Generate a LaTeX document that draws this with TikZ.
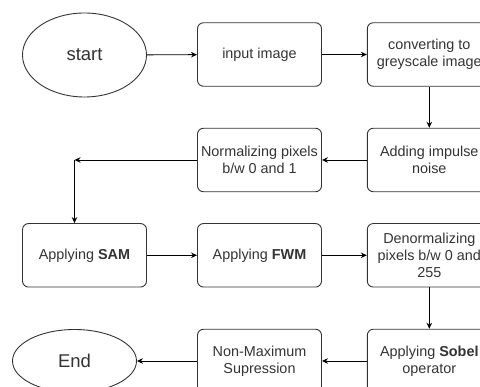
\documentclass[tikz,border=0pt]{standalone}
\usepackage{fontspec}
\setmainfont{Liberation Sans}
\usetikzlibrary{arrows.meta,shapes.geometric}

\begin{document}
\begin{tikzpicture}[x=1pt, y=-1pt, line width=0.9pt, >={Stealth[length=6pt,width=5.5pt]},
    box/.style={draw=black!80, rounded corners=6pt, minimum width=124pt, minimum height=63.5pt,
      inner sep=0pt, align=center, text=black!80, font=\fontsize{14.4}{16.7}\selectfont},
    oval/.style={draw=black!80, ellipse, minimum width=124pt, inner sep=0pt,
      text=black!80, font=\fontsize{18.5}{20}\selectfont}]
    \useasboundingbox (0,0) rectangle (480,387);
    % first row
    \node[oval, minimum height=84pt] (start) at (84.5,55) {start};
    \node[box] (input) at (259.5,54.5) {input image};
    \node[box] (grey) at (429.3,54.5) {converting to\\greyscale image};
    % second row
    \node[box] (noise) at (429.3,160) {Adding impulse\\noise};
    \node[box] (norm) at (259.5,160) {Normalizing pixels\\b/w 0 and 1};
    \coordinate (bend) at (74.5,160);
    % third row
    \node[box] (sam) at (84.5,255.3) {Applying \textbf{SAM}};
    \node[box] (fwm) at (259.5,255.3) {Applying \textbf{FWM}};
    \node[box] (denorm) at (429.3,255.3) {Denormalizing\\pixels b/w 0 and\\255};
    % last row
    \node[box] (sobel) at (429.3,361) {Applying \textbf{Sobel}\\operator};
    \node[box] (nms) at (259.5,361) {Non-Maximum\\Supression};
    \node[oval, minimum height=63pt] (end) at (74.5,361) {End};
    % arrows
    \draw[->] (start) -- (input);
    \draw[->] (input) -- (grey);
    \draw[->] (grey) -- (noise);
    \draw[->] (noise) -- (norm);
    \draw[->] (norm) -- (bend);
    \draw[->] (bend) -- (bend |- sam.north);
    \draw[->] (sam) -- (fwm);
    \draw[->] (fwm) -- (denorm);
    \draw[->] (denorm) -- (sobel);
    \draw[->] (sobel) -- (nms);
    \draw[->] (nms) -- (end);
\end{tikzpicture}
\end{document}
